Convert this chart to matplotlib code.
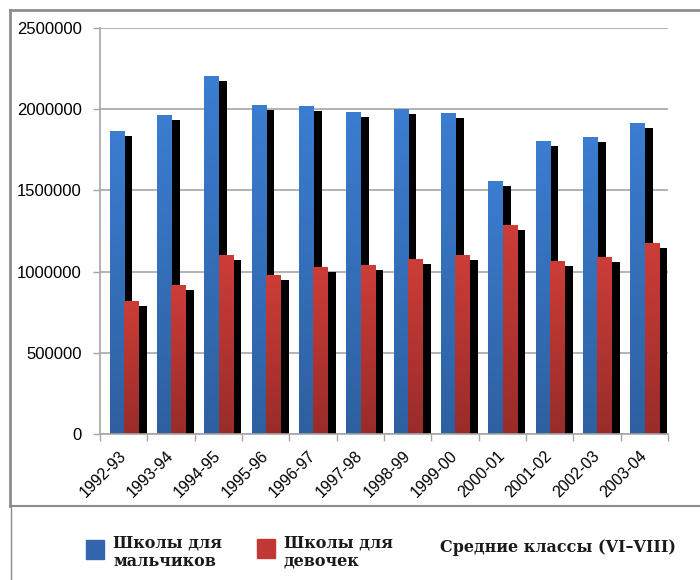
import numpy as np
import matplotlib
matplotlib.use('Agg')
import matplotlib.pyplot as plt
import matplotlib.patheffects as pe
import matplotlib.transforms as mtransforms
from matplotlib.colors import LinearSegmentedColormap
from matplotlib.lines import Line2D

# данные
years = ['1992-93', '1993-94', '1994-95', '1995-96', '1996-97', '1997-98',
         '1998-99', '1999-00', '2000-01', '2001-02', '2002-03', '2003-04']
boys = [1868000, 1966000, 2206000, 2028000, 2022000, 1985000,
        2003000, 1978000, 1560000, 1806000, 1831000, 1917000]
girls = [820000, 919000, 1104000, 981000, 1030000, 1042000,
         1079000, 1104000, 1289000, 1067000, 1092000, 1178000]
yticks = [0, 500000, 1000000, 1500000, 2000000, 2500000]

blue_top, blue_bot = '#3b7dd1', '#2e60a0'
red_top, red_bot = '#cd3d38', '#982c29'
grid_col = '#a6a6a6'

fig = plt.figure(figsize=(7, 5.8), dpi=100)
W, H = 700, 580
ax = fig.add_axes([100 / W, (H - 434) / H, 568 / W, 406 / H])

x = np.arange(len(years))
width = 0.31
shadow = [pe.SimplePatchShadow(offset=(5.8, -3.6), shadow_rgbFace='black', alpha=1.0), pe.Normal()]


def gradient_bars(xpos, vals, ctop, cbot, z):
    bars = ax.bar(xpos, vals, width, color=ctop, zorder=z, linewidth=0)
    cmap = LinearSegmentedColormap.from_list('g', [cbot, ctop])
    grad = np.linspace(0, 1, 256).reshape(-1, 1)
    for b in bars:
        b.set_path_effects(shadow)
        x0, w, h = b.get_x(), b.get_width(), b.get_height()
        im = ax.imshow(grad, cmap=cmap, origin='lower', aspect='auto',
                       extent=[x0, x0 + w, 0, h], zorder=z + 0.1)
        im.set_clip_path(b)
    return bars


gradient_bars(x - 0.14, boys, blue_top, blue_bot, 2)
gradient_bars(x + 0.16, girls, red_top, red_bot, 2.5)

ax.set_xlim(-0.5, len(years) - 0.5)
ax.set_ylim(0, 2500000)

ax.set_yticks(yticks)
ax.set_yticklabels([str(v) for v in yticks])
ax.yaxis.grid(True, color=grid_col, linewidth=1.2)
ax.set_axisbelow(True)

ax.set_xticks(np.arange(len(years) + 1) - 0.5)
ax.set_xticklabels([])
ax.set_xticks(x, minor=True)
ax.set_xticklabels(years, minor=True, rotation=45, ha='right', va='center',
                   rotation_mode='anchor', fontsize=11.5, family='Liberation Sans')
shift = mtransforms.ScaledTranslation(-5 / 100, 0, fig.dpi_scale_trans)
for lab in ax.get_xticklabels(minor=True):
    lab.set_transform(lab.get_transform() + shift)
ax.tick_params(axis='x', which='minor', length=0, pad=14)
ax.tick_params(axis='x', which='major', length=5, color=grid_col, width=1)
ax.tick_params(axis='y', length=5, color=grid_col, width=1, pad=8, labelsize=12)
for lab in ax.get_yticklabels():
    lab.set_family('Liberation Sans')

for s in ['top', 'right']:
    ax.spines[s].set_visible(False)
for s in ['left', 'bottom']:
    ax.spines[s].set_color(grid_col)
    ax.spines[s].set_linewidth(1.2)
ax.spines['bottom'].set_zorder(5)

# рамка диаграммы
frame_col = '#8c8c8c'
def fline(xs, ys, lw=1.5):
    fig.add_artist(Line2D([v / W for v in xs], [1 - v / H for v in ys],
                          color=frame_col, linewidth=lw))

fline([10, 700], [10, 10], 2)
fline([10, 10], [10, 506], 2)
fline([10, 700], [506, 506], 1.5)
fline([11, 11], [506, 580], 1)

# легенда
lg_font = dict(family='DejaVu Serif', fontweight='bold', fontsize=11.5, color='#1a1a1a')
fig.patches.append(plt.Rectangle((86 / W, 1 - 559 / H), 18 / W, 19 / H,
                                 transform=fig.transFigure, color='#3265ad'))
fig.patches.append(plt.Rectangle((257 / W, 1 - 558 / H), 18 / W, 19 / H,
                                 transform=fig.transFigure, color='#c13834'))
fig.text(113 / W, 1 - 552 / H, 'Школы для\nмальчиков', va='center', ha='left',
         linespacing=1.15, **lg_font)
fig.text(284 / W, 1 - 552 / H, 'Школы для\nдевочек', va='center', ha='left',
         linespacing=1.15, **lg_font)
fig.text(440 / W, 1 - 547 / H, 'Средние классы (VI–VIII)', va='center', ha='left', **lg_font)

fig.savefig('out.png', dpi=100)
